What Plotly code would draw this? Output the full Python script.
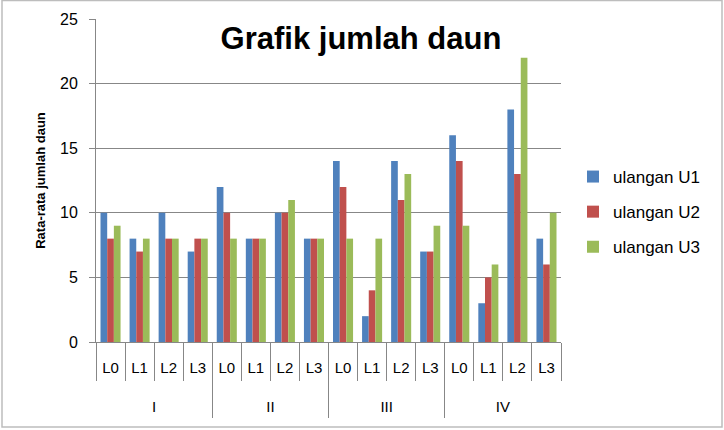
import plotly.graph_objects as go

groups = ["I", "II", "III", "IV"]
subs = ["L0", "L1", "L2", "L3"]
u1 = [10, 8, 10, 7, 12, 8, 10, 8, 14, 2, 14, 7, 16, 3, 18, 8]
u2 = [8, 7, 8, 8, 10, 8, 10, 8, 12, 4, 11, 7, 14, 5, 13, 6]
u3 = [9, 8, 8, 8, 8, 8, 11, 8, 8, 8, 13, 9, 9, 6, 22, 10]
series_names = ["ulangan U1", "ulangan U2", "ulangan U3"]
colors = ["#4F81BD", "#C0504D", "#9BBB59"]

keys = [g + "-" + s for g in groups for s in subs]
sub_text = [s for _ in groups for s in subs]

W, H = 724, 430
L, R, T, B = 96, 163, 19, 12
pw, ph = W - L - R, H - T - B
plot_bottom_px = 342
ydom0 = (H - B - plot_bottom_px) / ph

fig = go.Figure()
for i, (name, vals, c) in enumerate(zip(series_names, [u1, u2, u3], colors)):
    fig.add_trace(go.Bar(x=keys, y=vals, name=name, legendgroup=name,
                         marker=dict(color=c, line=dict(width=0))))
# invisible helper trace for the group-level category axis
fig.add_trace(go.Scatter(x=groups, y=[0] * len(groups), xaxis="x2", yaxis="y",
                         mode="none", showlegend=False, hoverinfo="skip"))

grey = "#878787"
fig.update_layout(
    width=W, height=H,
    margin=dict(l=L, r=R, t=T, b=B, pad=0, autoexpand=False),
    paper_bgcolor="white", plot_bgcolor="white",
    barmode="group", bargap=0.31, bargroupgap=0,
    font=dict(family="Liberation Sans, Arial, sans-serif", size=16, color="#000000"),
    title=dict(text="<b>Grafik jumlah daun</b>", x=361 / W, xanchor="center",
               y=1 - 38 / H, yanchor="middle", font=dict(size=31, color="#000000")),
    legend=dict(x=(573 - L) / pw, y=1 - (159 - T) / ph, xanchor="left", yanchor="top",
                font=dict(size=17), itemwidth=30, tracegroupgap=10, bgcolor="rgba(0,0,0,0)"),
    showlegend=True,
    yaxis=dict(
        domain=[ydom0, 1], range=[0, 25], dtick=5, showgrid=True, gridcolor=grey, gridwidth=1,
        showline=True, linecolor=grey, linewidth=1, automargin=False,
        ticks="outside", ticklen=6, tickcolor=grey, ticklabelstandoff=8,
        tickfont=dict(size=16), zeroline=False,
        title=dict(text="<b>Rata-rata jumlah daun</b>", font=dict(size=13), standoff=11),
    ),
    xaxis=dict(
        type="category", anchor="y", showline=True, linecolor=grey, linewidth=1,
        ticks="outside", tickson="boundaries", ticklen=38, tickcolor=grey,
        tickvals=keys, ticktext=sub_text, tickangle=0, automargin=False,
        tickfont=dict(size=15), showgrid=False, ticklabelstandoff=12,
    ),
    xaxis2=dict(
        type="category", overlaying="x", anchor="free", position=0, side="bottom",
        range=[-0.5, len(groups) - 0.5], automargin=False,
        showline=False, ticks="inside", tickson="boundaries", ticklen=76, tickcolor=grey,
        tickfont=dict(size=15), showgrid=False, ticklabelstandoff=-22, tickangle=0,
    ),
)
# outer chart border
fig.add_shape(type="rect", xref="paper", yref="paper",
              x0=(2 - L) / pw, x1=(722 - L) / pw, y0=(H - B - 427) / ph, y1=(H - B - 0.5) / ph,
              line=dict(color="#BDBDBD", width=1.5), fillcolor="rgba(0,0,0,0)", layer="below")

fig.write_html("out.html")
